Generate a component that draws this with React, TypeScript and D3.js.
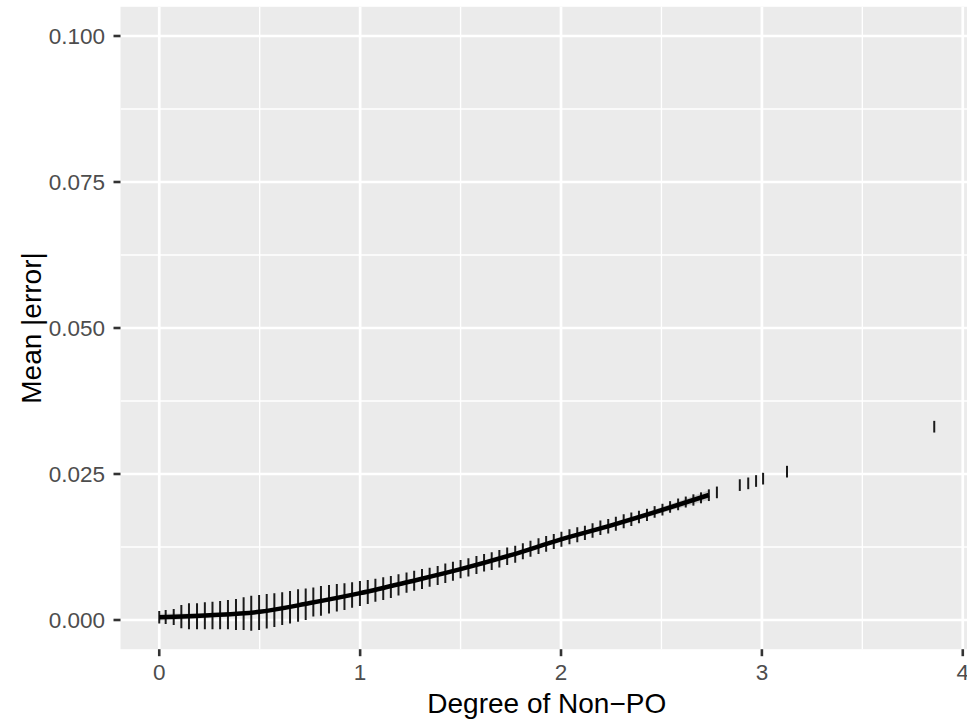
import React from "react";
import * as d3 from "d3";

// Error-bar data (Degree of Non-PO vs mean |error|)
const xValues = [
  0.0, 0.032, 0.072, 0.11, 0.148, 0.188, 0.227, 0.265, 0.303, 0.342,
  0.382, 0.42, 0.458, 0.497, 0.535, 0.573, 0.612, 0.651, 0.691, 0.729,
  0.767, 0.805, 0.845, 0.884, 0.922, 0.96, 0.999, 1.038, 1.076, 1.115,
  1.153, 1.191, 1.231, 1.269, 1.308, 1.346, 1.386, 1.424, 1.462, 1.5,
  1.539, 1.579, 1.617, 1.655, 1.693, 1.732, 1.772, 1.81, 1.848, 1.888,
  1.926, 1.964, 2.002, 2.042, 2.081, 2.119, 2.157, 2.196, 2.235, 2.273,
  2.312, 2.35, 2.388, 2.428, 2.466, 2.505, 2.543, 2.583, 2.621, 2.659,
  2.697, 2.736, 2.776, 2.89, 2.932, 2.971, 3.006, 3.125, 3.858,
];
const meanValues = [
  0.00048, 0.00051, 0.00051, 0.00057, 0.00063, 0.00063, 0.00072, 0.00077, 0.00083, 0.00091,
  0.00094, 0.00108, 0.00116, 0.00128, 0.0015, 0.0017, 0.00194, 0.00219, 0.00248, 0.0027,
  0.00308, 0.00328, 0.00356, 0.0038, 0.004, 0.00428, 0.00454, 0.0048, 0.0051, 0.00536,
  0.00565, 0.006, 0.0064, 0.00673, 0.00702, 0.00733, 0.00762, 0.008, 0.00836, 0.0087,
  0.009, 0.00942, 0.0098, 0.01007, 0.01048, 0.01091, 0.01127, 0.01176, 0.01221, 0.01264,
  0.01304, 0.01344, 0.01384, 0.01425, 0.01459, 0.01493, 0.01533, 0.01579, 0.01606, 0.01649,
  0.0169, 0.01726, 0.01764, 0.018, 0.0185, 0.0189, 0.01935, 0.0198, 0.0202, 0.02055,
  0.02092, 0.02137, 0.02185, 0.0231, 0.0234, 0.0238, 0.0242, 0.0254, 0.0331,
];
const errorValues = [
  0.00106, 0.0012, 0.00137, 0.002, 0.00223, 0.00223, 0.00231, 0.00236, 0.00243, 0.0025,
  0.00265, 0.0028, 0.003, 0.003, 0.00294, 0.0029, 0.0028, 0.00277, 0.00277, 0.0027,
  0.0025, 0.00254, 0.00243, 0.00236, 0.00228, 0.00217, 0.00214, 0.00205, 0.00197, 0.00194,
  0.0019, 0.00182, 0.00174, 0.00171, 0.00171, 0.00163, 0.00163, 0.00166, 0.00163, 0.00157,
  0.00157, 0.00154, 0.00151, 0.00151, 0.00151, 0.00149, 0.00146, 0.00137, 0.00137, 0.00134,
  0.00134, 0.00128, 0.00128, 0.00128, 0.00128, 0.00123, 0.00123, 0.00123, 0.00123, 0.0012,
  0.0012, 0.00116, 0.00108, 0.00104, 0.001, 0.001, 0.001, 0.001, 0.00094, 0.00097,
  0.00094, 0.001, 0.001, 0.001, 0.001, 0.001, 0.001, 0.001, 0.001,
];

// Smooth fit line with its standard-error ribbon
const smoothX = [0, 0.25, 0.5, 0.75, 1.0, 1.25, 1.5, 1.75, 2.0, 2.25, 2.5, 2.736];
const smoothY = [0.00046, 0.0008, 0.0014, 0.0029, 0.0046, 0.0066, 0.0087, 0.0111, 0.0138, 0.0162, 0.0188, 0.0214];
const smoothSE = [0.0006, 0.0004, 0.0003, 0.0003, 0.0003, 0.0003, 0.0003, 0.0003, 0.0003, 0.0004, 0.0005, 0.0008];

const xTicks = [0, 1, 2, 3, 4];
const xMinorTicks = [0.5, 1.5, 2.5, 3.5];
const yTicks = [0, 0.025, 0.05, 0.075, 0.1];
const yMinorTicks = [0.0125, 0.0375, 0.0625, 0.0875];
const yLimits = [0, 0.1];

const W = 967;
const H = 721;
const panel = { left: 120.5, right: 973, top: 6.8, bottom: 649.2 };
const FONT = "'Liberation Sans', Arial, Helvetica, sans-serif";

export default function App() {
  const [xmin, xmax] = d3.extent(xValues) as [number, number];
  const xpad = (xmax - xmin) * 0.05;
  const x = d3.scaleLinear().domain([xmin - xpad, xmax + xpad]).range([panel.left, panel.right]);
  const ypad = (yLimits[1] - yLimits[0]) * 0.05;
  const y = d3.scaleLinear().domain([yLimits[0] - ypad, yLimits[1] + ypad]).range([panel.bottom, panel.top]);

  const smooth = smoothX.map((v, i) => ({ x: v, y: smoothY[i], se: smoothSE[i] }));
  const line = d3.line<any>().x((d) => x(d.x)).y((d) => y(d.y)).curve(d3.curveMonotoneX);
  const area = d3
    .area<any>()
    .x((d) => x(d.x))
    .y0((d) => y(d.y - d.se))
    .y1((d) => y(d.y + d.se))
    .curve(d3.curveMonotoneX);

  const bars = xValues.map((v, i) => ({ x: v, lo: meanValues[i] - errorValues[i], hi: meanValues[i] + errorValues[i] }));

  return (
    <svg width={W} height={H} style={{ position: "absolute", left: 0, top: 0, background: "#fff" }} fontFamily={FONT}>
      <defs>
        <clipPath id="panelClip">
          <rect x={panel.left} y={panel.top} width={panel.right - panel.left} height={panel.bottom - panel.top} />
        </clipPath>
      </defs>
      <rect x={panel.left} y={panel.top} width={panel.right - panel.left} height={panel.bottom - panel.top} fill="#EBEBEB" />
      <g clipPath="url(#panelClip)">
        {xMinorTicks.map((t) => (
          <line key={"xm" + t} x1={x(t)} x2={x(t)} y1={panel.top} y2={panel.bottom} stroke="#fff" strokeWidth={1.35} />
        ))}
        {yMinorTicks.map((t) => (
          <line key={"ym" + t} y1={y(t)} y2={y(t)} x1={panel.left} x2={panel.right} stroke="#fff" strokeWidth={1.35} />
        ))}
        {xTicks.map((t) => (
          <line key={"xg" + t} x1={x(t)} x2={x(t)} y1={panel.top} y2={panel.bottom} stroke="#fff" strokeWidth={2.7} />
        ))}
        {yTicks.map((t) => (
          <line key={"yg" + t} y1={y(t)} y2={y(t)} x1={panel.left} x2={panel.right} stroke="#fff" strokeWidth={2.7} />
        ))}
        <path d={area(smooth) || ""} fill="#999999" fillOpacity={0.4} />
        {bars.map((b, i) => (
          <line key={"b" + i} x1={x(b.x)} x2={x(b.x)} y1={y(b.lo)} y2={y(b.hi)} stroke="#1a1a1a" strokeWidth={2} />
        ))}
        <path d={line(smooth) || ""} fill="none" stroke="#000" strokeWidth={4.5} strokeLinejoin="round" />
      </g>
      {/* axis ticks */}
      {xTicks.map((t) => (
        <g key={"xt" + t}>
          <line x1={x(t)} x2={x(t)} y1={panel.bottom} y2={panel.bottom + 7} stroke="#333" strokeWidth={2.6} />
          <text x={x(t)} y={680} textAnchor="middle" fontSize={22.5} fill="#4D4D4D">
            {String(t)}
          </text>
        </g>
      ))}
      {yTicks.map((t) => (
        <g key={"yt" + t}>
          <line x1={panel.left - 7} x2={panel.left} y1={y(t)} y2={y(t)} stroke="#333" strokeWidth={2.6} />
          <text x={105} y={y(t)} dy="0.36em" textAnchor="end" fontSize={22.5} fill="#4D4D4D">
            {d3.format(".3f")(t)}
          </text>
        </g>
      ))}
      <text x={(panel.left + panel.right) / 2} y={713} textAnchor="middle" fontSize={28} fill="#000">
        Degree of Non−PO
      </text>
      <text
        transform={`translate(41, ${(panel.top + panel.bottom) / 2}) rotate(-90)`}
        textAnchor="middle"
        fontSize={28}
        fill="#000"
      >
        Mean |error|
      </text>
    </svg>
  );
}
